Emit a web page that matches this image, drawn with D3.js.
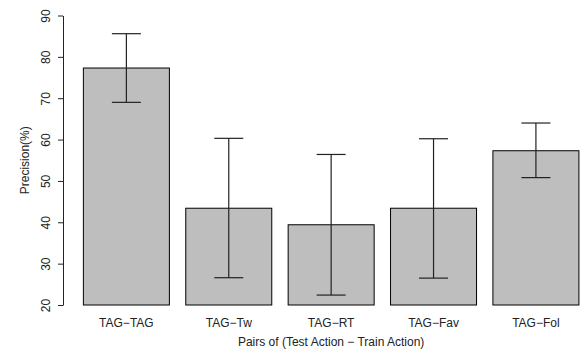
<!DOCTYPE html>
<html>
<head>
<meta charset="utf-8">
<script src="https://cdn.jsdelivr.net/npm/d3@7"></script>
<style>
  body { margin: 0; background: #fff; }
  text { font-family: "Liberation Sans", Arial, sans-serif; }
</style>
</head>
<body>
<div id="chart"></div>
<script>
// dados
var categories = ["TAG\u2212TAG", "TAG\u2212Tw", "TAG\u2212RT", "TAG\u2212Fav", "TAG\u2212Fol"];
var precision = [77.3, 43.4, 39.4, 43.4, 57.3];
var errLow = [69.0, 26.6, 22.4, 26.5, 50.8];
var errHigh = [85.6, 60.3, 56.4, 60.2, 64.0];
var yTicks = [20, 30, 40, 50, 60, 70, 80, 90];

var width = 582, height = 352;

var svg = d3.select("#chart")
  .append("svg")
    .attr("width", width)
    .attr("height", height);

// escalas
var x = d3.scaleBand()
  .domain(categories)
  .range([67, 595.3])
  .paddingInner(0.16)
  .paddingOuter(0.16);

var y = d3.scaleLinear()
  .domain([20, 90])
  .range([305, 15.5]);

// barras
svg.append("g")
  .selectAll("rect")
  .data(categories)
  .enter()
  .append("rect")
    .attr("x", function(d) { return x(d); })
    .attr("y", function(d, i) { return y(precision[i]); })
    .attr("width", x.bandwidth())
    .attr("height", function(d, i) { return y(20) - y(precision[i]); })
    .style("fill", "#bebebe")
    .style("stroke", "#000")
    .style("stroke-width", 1);

// barras de erro
var capW = 29;
var eb = svg.append("g")
  .style("stroke", "#222")
  .style("stroke-width", 1.2);
categories.forEach(function(c, i) {
  var cx = x(c) + x.bandwidth() / 2;
  eb.append("line")
    .attr("x1", cx).attr("x2", cx)
    .attr("y1", y(errLow[i])).attr("y2", y(errHigh[i]));
  eb.append("line")
    .attr("x1", cx - capW / 2).attr("x2", cx + capW / 2)
    .attr("y1", y(errHigh[i])).attr("y2", y(errHigh[i]));
  eb.append("line")
    .attr("x1", cx - capW / 2).attr("x2", cx + capW / 2)
    .attr("y1", y(errLow[i])).attr("y2", y(errLow[i]));
});

// eixo Y
var yAxis = svg.append("g")
  .attr("transform", "translate(63,0)")
  .call(d3.axisLeft(y).tickValues(yTicks).tickSize(5).tickSizeOuter(0).tickPadding(0));
yAxis.select(".domain").style("stroke", "#222");
yAxis.selectAll(".tick line").style("stroke", "#222");
yAxis.selectAll(".tick text")
  .attr("x", 0)
  .attr("dy", 0)
  .attr("transform", "translate(-13,0) rotate(-90)")
  .attr("text-anchor", "middle")
  .style("font-size", "12px")
  .style("fill", "#222");

// rótulos X
svg.append("g")
  .selectAll("text")
  .data(categories)
  .enter()
  .append("text")
    .attr("x", function(d) { return x(d) + x.bandwidth() / 2; })
    .attr("y", 327)
    .attr("text-anchor", "middle")
    .style("font-size", "12px")
    .style("fill", "#222")
    .text(function(d) { return d; });

// títulos
svg.append("text")
  .attr("x", (x(categories[0]) + x(categories[4]) + x.bandwidth()) / 2)
  .attr("y", 346)
  .attr("text-anchor", "middle")
  .style("font-size", "12px")
  .style("fill", "#222")
  .text("Pairs of (Test Action \u2212 Train Action)");

svg.append("text")
  .attr("transform", "translate(29," + ((y(20) + y(90)) / 2) + ") rotate(-90)")
  .attr("text-anchor", "middle")
  .style("font-size", "12px")
  .style("fill", "#222")
  .text("Precision(%)");
</script>
</body>
</html>
